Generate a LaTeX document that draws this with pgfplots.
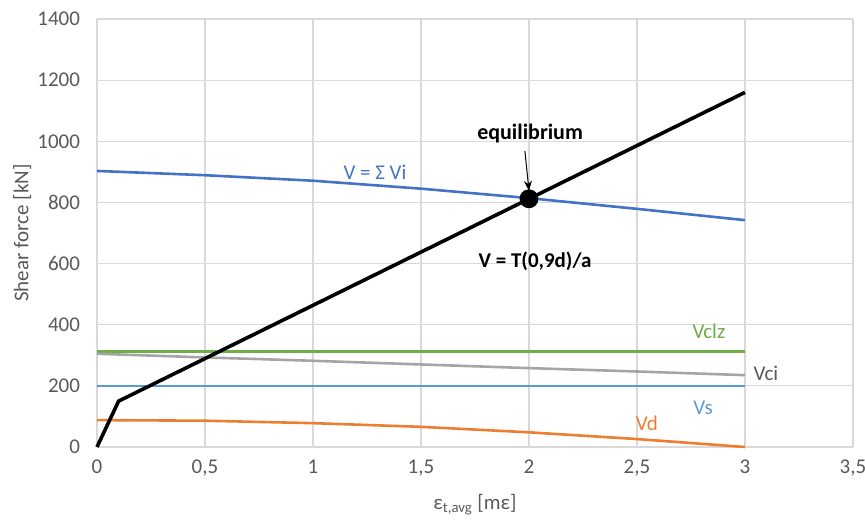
\documentclass[border=0pt]{standalone}
\usepackage{fontspec}
\setmainfont{Carlito}
\usepackage{pgfplots}
\pgfplotsset{compat=1.18}
\usetikzlibrary{arrows.meta}
\definecolor{cV}{HTML}{4472C4}
\definecolor{cVd}{HTML}{ED7D31}
\definecolor{cVci}{HTML}{A5A5A5}
\definecolor{cVs}{HTML}{5B9BD5}
\definecolor{cVclz}{HTML}{70AD47}
\definecolor{tgray}{HTML}{595959}
\definecolor{ggray}{HTML}{D9D9D9}
\begin{document}
\begin{tikzpicture}
\path[use as bounding box] (-48.5pt,-36pt) rectangle (384pt,223.5pt);
\begin{axis}[
  scale only axis, width=378pt, height=214pt,
  xmin=0, xmax=3.5, ymin=0, ymax=1400,
  xtick={0,0.5,...,3.5}, ytick={0,200,...,1400},
  grid=major, major grid style={ggray, line width=0.6pt},
  axis line style={draw=none},
  tick style={draw=none},
  /pgf/number format/assume math mode=true,
  /pgf/number format/use comma,
  /pgf/number format/1000 sep={},
  ticklabel style={font=\fontsize{10.5}{12}\selectfont, text=tgray},
  xticklabel style={yshift=-3pt},
  yticklabel style={xshift=-5pt},
  ylabel={Shear force [kN]},
  ylabel style={font=\fontsize{10.5}{12}\selectfont, text=tgray, at={(axis description cs:-0.099,0.5)}, anchor=center},
  xlabel={ε\textsubscript{t,avg} [mε]},
  xlabel style={font=\fontsize{10.5}{12}\selectfont, text=tgray, yshift=-2pt},
  clip=false,
]
\draw[draw=ggray, line width=0.8pt] (axis cs:0,0) -- (axis cs:3.5,0);
\addplot[cVs, line width=1.3pt] coordinates {(0,200) (3,200)};
\addplot[cVclz, line width=1.3pt] coordinates {(0,312) (3,312)};
\addplot[cVci, line width=1.3pt] coordinates {(0,305) (0.5,293) (1,282) (1.5,270) (2,258) (2.5,247) (3,235)};
\addplot[cVd, line width=1.3pt] coordinates {(0,88) (0.5,86) (1,78) (1.5,66) (2,48) (2.5,26) (3,0)};
\addplot[cV, line width=1.3pt] coordinates {(0,903) (0.5,889) (1,871) (1.5,845) (2,814) (2.5,779) (3,742)};
\addplot[black, line width=1.8pt] coordinates {(0,0) (0.1,150) (3,1160)};
\addplot[only marks, mark=*, mark size=4.5pt, black] coordinates {(2,812)};
\draw[-{Stealth[length=5pt,width=4pt]}, black, line width=0.5pt] (axis cs:1.981,968) -- (axis cs:2.0,838);
\node[font=\fontsize{11}{13}\selectfont\bfseries] at (axis cs:2.005,1027) {equilibrium};
\node[font=\fontsize{10.5}{12}\selectfont\bfseries] at (axis cs:2.028,608) {V = T(0,9d)/a};
\node[font=\fontsize{10.5}{12}\selectfont, text=cV] at (axis cs:1.287,900) {V = Σ Vi};
\node[font=\fontsize{10.5}{12}\selectfont, text=cVclz] at (axis cs:2.833,380) {Vclz};
\node[font=\fontsize{10.5}{12}\selectfont, text=tgray] at (axis cs:3.097,242) {Vci};
\node[font=\fontsize{10.5}{12}\selectfont, text=cVs] at (axis cs:2.806,128) {Vs};
\node[font=\fontsize{10.5}{12}\selectfont, text=cVd] at (axis cs:2.546,79) {Vd};
\end{axis}
\end{tikzpicture}
\end{document}
